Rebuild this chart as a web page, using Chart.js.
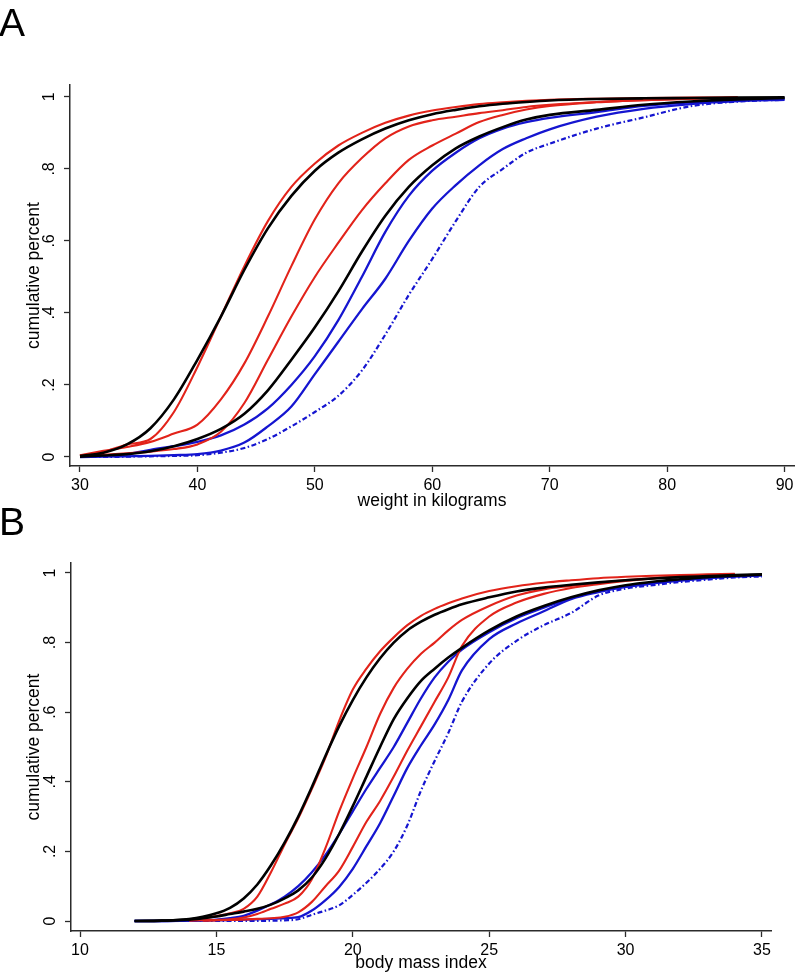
<!DOCTYPE html>
<html lang="en">
<head>
<meta charset="UTF-8">
<title>Cumulative distributions of weight and body mass index</title>
<script src="https://cdn.jsdelivr.net/npm/chart.js"></script>
<style>
  body { margin: 0; background: #fff; font-family: "Liberation Sans", Arial, sans-serif; }
  .page { position: relative; width: 796px; height: 975px; overflow: hidden; background: #fff; }
  .panel-letter { position: absolute; left: -1px; font-size: 39px; line-height: 39px; color: #000; }
  #chartA { position: absolute; left: 0; top: 0; }
  #chartB { position: absolute; left: 0; top: 515px; }
</style>
</head>
<body>
<div class="page">
  <canvas id="chartA" width="796" height="515"></canvas>
  <canvas id="chartB" width="796" height="460"></canvas>
  <div class="panel-letter" style="top:3px">A</div>
  <div class="panel-letter" style="top:502px">B</div>
</div>

<script>
// ---- data ----
const yTicks = [0, 0.2, 0.4, 0.6, 0.8, 1];
const yTickLabels = ["0", ".2", ".4", ".6", ".8", "1"];

// panel A: weight in kilograms
const weightTicks = [30, 40, 50, 60, 70, 80, 90];
const weightKg = [30, 32, 34, 36, 38, 40, 42, 44, 46, 48, 50, 52, 54, 56, 58, 60, 62, 64, 66, 68, 70, 74, 78, 82, 86, 90];
const wBlack1 = [0.003, 0.012, 0.035, 0.08, 0.16, 0.27, 0.39, 0.52, 0.635, 0.725, 0.795, 0.845, 0.882, 0.912, 0.935, 0.952, 0.964, 0.974, 0.981, 0.986, 0.99, 0.994, 0.996, 0.997, 0.998, 0.999];
const wBlack2 = [0.001, 0.004, 0.008, 0.016, 0.03, 0.05, 0.078, 0.12, 0.185, 0.27, 0.36, 0.46, 0.57, 0.67, 0.75, 0.81, 0.857, 0.89, 0.916, 0.937, 0.95, 0.964, 0.978, 0.987, 0.993, 0.997];
const wRed1 = [0.004, 0.014, 0.035, 0.05, 0.125, 0.25, 0.39, 0.53, 0.655, 0.75, 0.815, 0.865, 0.9, 0.928, 0.948, 0.962, 0.972, 0.98, 0.985, 0.989, 0.992, 0.995, 0.997, 0.998, 0.999, null];
const wRed2 = [0.005, 0.017, 0.028, 0.042, 0.065, 0.09, 0.16, 0.26, 0.39, 0.53, 0.66, 0.76, 0.83, 0.885, 0.918, 0.935, 0.945, 0.955, 0.963, 0.972, 0.978, 0.986, 0.991, 0.995, 0.998, null];
const wRed3 = [0.003, 0.006, 0.01, 0.015, 0.022, 0.035, 0.07, 0.15, 0.27, 0.39, 0.5, 0.595, 0.685, 0.76, 0.825, 0.865, 0.898, 0.93, 0.95, 0.965, 0.975, 0.985, 0.991, 0.995, 0.998, null];
const wBlue1 = [0.001, 0.003, 0.008, 0.02, 0.03, 0.042, 0.06, 0.09, 0.135, 0.2, 0.28, 0.38, 0.5, 0.625, 0.725, 0.795, 0.845, 0.885, 0.912, 0.93, 0.942, 0.958, 0.975, 0.985, 0.991, 0.995];
const wBlue2 = [0, 0.001, 0.002, 0.003, 0.005, 0.008, 0.018, 0.04, 0.085, 0.14, 0.23, 0.32, 0.41, 0.495, 0.6, 0.69, 0.755, 0.81, 0.855, 0.885, 0.91, 0.945, 0.967, 0.98, 0.988, 0.992];
const wBlueDash = [0, 0, 0.001, 0.002, 0.003, 0.005, 0.012, 0.025, 0.05, 0.085, 0.125, 0.17, 0.24, 0.34, 0.45, 0.55, 0.655, 0.75, 0.8, 0.845, 0.87, 0.912, 0.943, 0.974, 0.987, 0.992];

// panel B: body mass index
const bmiTicks = [10, 15, 20, 25, 30, 35];
const bmi = [12, 13, 14, 14.5, 15, 15.5, 16, 16.5, 17, 17.5, 18, 18.5, 19, 19.5, 20, 20.5, 21, 21.5, 22, 22.5, 23, 23.5, 24, 25, 26, 27, 28, 29, 30, 31, 32, 33, 34, 35];
const bBlack1 = [0, 0.001, 0.006, 0.012, 0.022, 0.038, 0.065, 0.105, 0.16, 0.225, 0.3, 0.385, 0.475, 0.56, 0.635, 0.7, 0.755, 0.8, 0.835, 0.86, 0.88, 0.896, 0.91, 0.93, 0.947, 0.958, 0.966, 0.973, 0.979, 0.984, 0.988, 0.991, 0.994, 0.996];
const bBlack2 = [0, 0.001, 0.004, 0.008, 0.013, 0.02, 0.027, 0.035, 0.047, 0.065, 0.088, 0.125, 0.18, 0.25, 0.33, 0.415, 0.5, 0.58, 0.64, 0.69, 0.725, 0.757, 0.785, 0.835, 0.875, 0.905, 0.93, 0.95, 0.965, 0.975, 0.982, 0.988, 0.992, 0.995];
const bRed1 = [null, null, 0.003, 0.008, 0.014, 0.022, 0.035, 0.07, 0.14, 0.22, 0.295, 0.38, 0.47, 0.575, 0.665, 0.725, 0.775, 0.815, 0.85, 0.877, 0.897, 0.913, 0.927, 0.948, 0.962, 0.972, 0.979, 0.985, 0.989, 0.992, 0.994, 0.996, 0.998, null];
const bRed2 = [null, null, 0.001, 0.002, 0.003, 0.005, 0.01, 0.02, 0.035, 0.05, 0.07, 0.12, 0.21, 0.315, 0.41, 0.5, 0.595, 0.67, 0.725, 0.768, 0.8, 0.835, 0.865, 0.905, 0.935, 0.953, 0.963, 0.972, 0.98, 0.985, 0.99, 0.993, 0.996, null];
const bRed3 = [null, null, null, 0.001, 0.002, 0.003, 0.004, 0.006, 0.008, 0.012, 0.025, 0.055, 0.1, 0.145, 0.213, 0.285, 0.345, 0.415, 0.49, 0.56, 0.63, 0.7, 0.79, 0.875, 0.915, 0.94, 0.957, 0.968, 0.977, 0.984, 0.989, 0.993, 0.996, null];
const bBlue1 = [0, 0, 0.001, 0.002, 0.004, 0.008, 0.015, 0.03, 0.048, 0.07, 0.1, 0.14, 0.19, 0.25, 0.315, 0.38, 0.44, 0.5, 0.57, 0.64, 0.7, 0.745, 0.78, 0.83, 0.87, 0.9, 0.928, 0.948, 0.961, 0.971, 0.979, 0.985, 0.99, 0.994];
const bBlue2 = [0, 0, 0.001, 0.001, 0.002, 0.003, 0.004, 0.005, 0.006, 0.008, 0.011, 0.03, 0.06, 0.098, 0.15, 0.215, 0.281, 0.36, 0.44, 0.505, 0.565, 0.635, 0.72, 0.81, 0.855, 0.89, 0.925, 0.945, 0.96, 0.97, 0.978, 0.985, 0.99, 0.993];
const bBlueDash = [0, 0, 0, 0, 0, 0, 0, 0, 0.001, 0.002, 0.005, 0.018, 0.03, 0.045, 0.075, 0.11, 0.15, 0.2, 0.275, 0.375, 0.46, 0.54, 0.63, 0.74, 0.805, 0.85, 0.885, 0.935, 0.955, 0.965, 0.974, 0.981, 0.987, 0.99];

// ---- styling ----
const FONT = '"Liberation Sans", Arial, Helvetica, sans-serif';
const AXIS = "#2b2b2b";
const RED = "#e2231a";
const BLUE = "#1515d0";

function pts(xs, ys) {
    const out = [];
    xs.forEach((x, i) => { if (ys[i] !== null) out.push({ x: x, y: ys[i] }); });
    return out;
}

function line(xs, ys, color, width, dash) {
    return {
        data: pts(xs, ys),
        borderColor: color,
        borderWidth: width,
        borderDash: dash || [],
        pointRadius: 0,
        fill: false,
        cubicInterpolationMode: "monotone"
    };
}

// rotated y tick labels, Stata style
const yLabelPlugin = {
    id: "yLabels",
    afterDraw(chart) {
        const ys = chart.scales.y;
        const ctx = chart.ctx;
        ctx.save();
        ctx.font = "16px " + FONT;
        ctx.fillStyle = "#000";
        ctx.textAlign = "center";
        ctx.textBaseline = "alphabetic";
        yTicks.forEach((v, i) => {
            ctx.save();
            ctx.translate(ys.right - 16, ys.getPixelForValue(v));
            ctx.rotate(-Math.PI / 2);
            ctx.fillText(yTickLabels[i], 0, 0);
            ctx.restore();
        });
        ctx.restore();
    }
};

function makeChart(id, cfg) {
    const canvas = document.getElementById(id);
    const H = canvas.height;
    return new Chart(canvas, {
        type: "line",
        data: { datasets: cfg.datasets },
        options: {
            responsive: false,
            animation: false,
            layout: { padding: { left: 0, top: cfg.area.top, right: canvas.width - cfg.area.right, bottom: 0 } },
            plugins: { legend: { display: false }, tooltip: { enabled: false } },
            scales: {
                x: {
                    type: "linear",
                    min: cfg.xMin,
                    max: cfg.xMax,
                    afterBuildTicks: s => { s.ticks = cfg.xTicks.map(v => ({ value: v })); },
                    afterFit: s => { s.height = H - cfg.area.bottom; s.paddingLeft = 0; s.paddingRight = 0; },
                    grid: { display: true, drawOnChartArea: false, drawTicks: true, tickLength: 6, tickWidth: 1.3, color: AXIS, tickColor: AXIS },
                    border: { display: true, color: AXIS, width: 1.5 },
                    ticks: { autoSkip: false, maxRotation: 0, minRotation: 0, padding: 4, color: "#000", font: { family: FONT, size: 16 } },
                    title: { display: true, text: cfg.xTitle, color: "#000", font: { family: FONT, size: 17.5 }, padding: { top: 0, bottom: cfg.titlePad } }
                },
                y: {
                    type: "linear",
                    min: cfg.yMin,
                    max: cfg.yMax,
                    afterBuildTicks: s => { s.ticks = yTicks.map(v => ({ value: v })); },
                    afterFit: s => { s.width = cfg.area.left; s.paddingTop = 0; s.paddingBottom = 0; },
                    grid: { display: true, drawOnChartArea: false, drawTicks: true, tickLength: 6, tickWidth: 1.3, color: AXIS, tickColor: AXIS },
                    border: { display: true, color: AXIS, width: 1.5 },
                    ticks: { display: false },
                    title: { display: true, text: "cumulative percent", color: "#000", font: { family: FONT, size: 17.5 }, padding: { top: 23.5, bottom: 0 } }
                }
            }
        },
        plugins: [yLabelPlugin]
    });
}

makeChart("chartA", {
    area: { left: 70, top: 85, right: 794, bottom: 466 },
    xMin: 29.15, xMax: 90.8, yMin: -0.025, yMax: 1.033,
    xTicks: weightTicks,
    xTitle: "weight in kilograms",
    titlePad: 3,
    datasets: [
        line(weightKg, wBlack1, "#000", 2.6),
        line(weightKg, wBlack2, "#000", 2.6),
        line(weightKg, wRed1, RED, 2.1),
        line(weightKg, wRed2, RED, 2.1),
        line(weightKg, wRed3, RED, 2.1),
        line(weightKg, wBlue1, BLUE, 2.3),
        line(weightKg, wBlue2, BLUE, 2.3),
        line(weightKg, wBlueDash, BLUE, 2.2, [5, 2.5, 1.5, 2.5])
    ]
});

makeChart("chartB", {
    area: { left: 71, top: 48, right: 771, bottom: 416 },
    xMin: 9.67, xMax: 35.33, yMin: -0.0287, yMax: 1.0287,
    xTicks: bmiTicks,
    xTitle: "body mass index",
    titlePad: 1,
    datasets: [
        line(bmi, bBlack1, "#000", 2.6),
        line(bmi, bBlack2, "#000", 2.6),
        line(bmi, bRed1, RED, 2.1),
        line(bmi, bRed2, RED, 2.1),
        line(bmi, bRed3, RED, 2.1),
        line(bmi, bBlue1, BLUE, 2.3),
        line(bmi, bBlue2, BLUE, 2.3),
        line(bmi, bBlueDash, BLUE, 2.2, [5, 2.5, 1.5, 2.5])
    ]
});
</script>
</body>
</html>
